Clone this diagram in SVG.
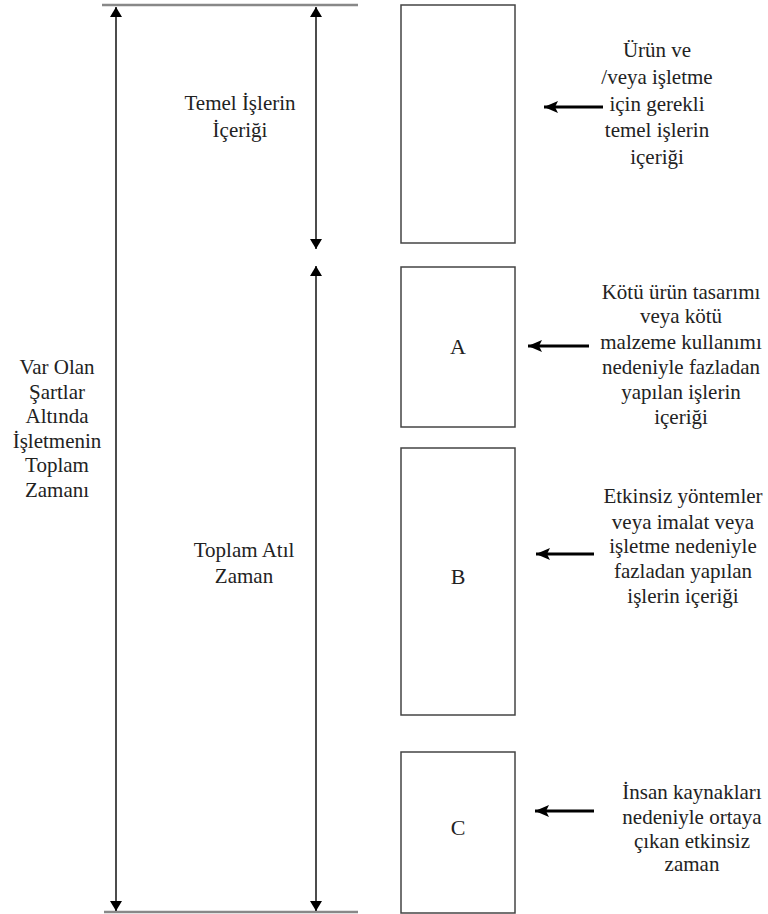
<svg xmlns="http://www.w3.org/2000/svg" width="768" height="914" viewBox="0 0 768 914">
<style>
.t{font-family:'Liberation Serif','Times New Roman',serif;font-size:21px;fill:#222;text-anchor:middle}
.big{font-size:22px}
.box{fill:#fff;stroke:#444;stroke-width:1.5}
.v{stroke:#111;stroke-width:1.5;fill:none}
.h{stroke:#000;stroke-width:3;fill:none}
.rule{stroke:#888;stroke-width:2.5}
</style>
<defs>
<marker id="vh" viewBox="0 0 10 12" refX="10" refY="6" markerWidth="10" markerHeight="12" markerUnits="userSpaceOnUse" orient="auto"><path d="M0,0 L10,6 L0,12 Z" fill="#000"/></marker>
<marker id="hh" viewBox="0 0 14 12" refX="14" refY="6" markerWidth="14" markerHeight="12" markerUnits="userSpaceOnUse" orient="auto"><path d="M0,0 L14,6 L0,12 L3,6 Z" fill="#000"/></marker>
</defs>
<rect width="768" height="914" fill="#fff"/>
<g id="rules">
<line class="rule" x1="102" y1="5" x2="358" y2="5"/>
<line class="rule" x1="104" y1="912" x2="358" y2="912"/>
</g>
<g id="connectors">
<line class="v" x1="116" y1="460" x2="116" y2="7" marker-end="url(#vh)"/>
<line class="v" x1="116" y1="460" x2="116" y2="911" marker-end="url(#vh)"/>
<line class="v" x1="316" y1="120" x2="316" y2="7" marker-end="url(#vh)"/>
<line class="v" x1="316" y1="120" x2="316" y2="249" marker-end="url(#vh)"/>
<line class="v" x1="316" y1="560" x2="316" y2="266" marker-end="url(#vh)"/>
<line class="v" x1="316" y1="560" x2="316" y2="911" marker-end="url(#vh)"/>
<line class="h" x1="603" y1="107" x2="544" y2="107" marker-end="url(#hh)"/>
<line class="h" x1="589" y1="346" x2="528" y2="346" marker-end="url(#hh)"/>
<line class="h" x1="594" y1="554" x2="536" y2="554" marker-end="url(#hh)"/>
<line class="h" x1="594" y1="811" x2="535" y2="811" marker-end="url(#hh)"/>
</g>
<g id="total">
<text class="t"><tspan x="57" y="374">Var Olan</tspan><tspan x="57" y="399">Şartlar</tspan><tspan x="57" y="423">Altında</tspan><tspan x="57" y="448">İşletmenin</tspan><tspan x="57" y="472">Toplam</tspan><tspan x="57" y="497">Zamanı</tspan></text>
</g>
<g id="temel-label">
<text class="t"><tspan x="240" y="110">Temel İşlerin</tspan><tspan x="240" y="137">İçeriği</tspan></text>
</g>
<g id="atil-label">
<text class="t"><tspan x="244" y="557">Toplam Atıl</tspan><tspan x="244" y="583">Zaman</tspan></text>
</g>
<g id="box-temel">
<rect class="box" x="401" y="5" width="114" height="238"/>
</g>
<g id="box-a">
<rect class="box" x="401" y="267" width="114" height="160"/>
<text class="t big" x="458" y="354">A</text>
</g>
<g id="box-b">
<rect class="box" x="401" y="448" width="114" height="267"/>
<text class="t big" x="458" y="584">B</text>
</g>
<g id="box-c">
<rect class="box" x="401" y="752" width="114" height="161"/>
<text class="t big" x="458" y="835">C</text>
</g>
<g id="note-temel">
<text class="t"><tspan x="657" y="57">Ürün ve</tspan><tspan x="657" y="84">/veya işletme</tspan><tspan x="657" y="111">için gerekli</tspan><tspan x="657" y="137">temel işlerin</tspan><tspan x="657" y="164">içeriği</tspan></text>
</g>
<g id="note-a">
<text class="t"><tspan x="681" y="299">Kötü ürün tasarımı</tspan><tspan x="681" y="323">veya kötü</tspan><tspan x="681" y="349">malzeme kullanımı</tspan><tspan x="681" y="374">nedeniyle fazladan</tspan><tspan x="681" y="399">yapılan işlerin</tspan><tspan x="681" y="424">içeriği</tspan></text>
</g>
<g id="note-b">
<text class="t"><tspan x="683" y="503">Etkinsiz yöntemler</tspan><tspan x="683" y="529">veya imalat veya</tspan><tspan x="683" y="553">işletme nedeniyle</tspan><tspan x="683" y="578">fazladan yapılan</tspan><tspan x="683" y="603">işlerin içeriği</tspan></text>
</g>
<g id="note-c">
<text class="t"><tspan x="692" y="799">İnsan kaynakları</tspan><tspan x="692" y="824">nedeniyle ortaya</tspan><tspan x="692" y="848">çıkan etkinsiz</tspan><tspan x="692" y="871">zaman</tspan></text>
</g>
</svg>
